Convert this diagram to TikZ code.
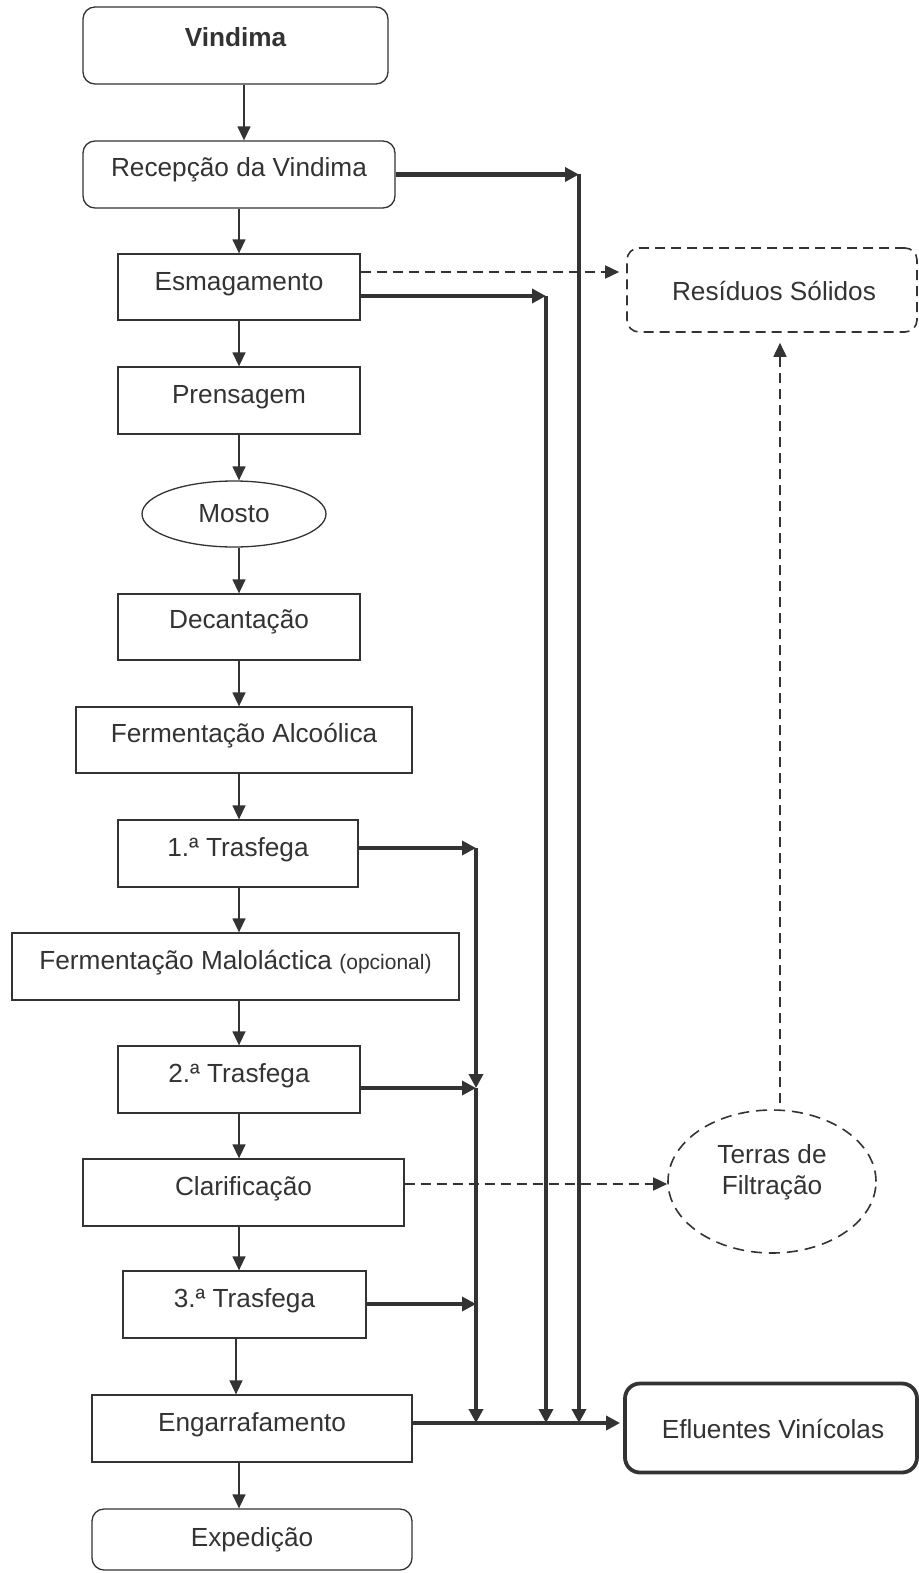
\documentclass[tikz,border=0pt]{standalone}
\usepackage{fontspec}
\setmainfont{Liberation Sans}
\usetikzlibrary{arrows.meta,shapes.geometric}
\definecolor{ink}{HTML}{333333}

\begin{document}
\begin{tikzpicture}[x=1pt,y=-1pt,
  proc/.style={draw=ink, line width=1.3pt, rectangle, inner sep=0pt},
  term/.style={proc, rounded corners=12pt},
  lbl/.style={text=ink, font=\fontsize{26.2}{31}\selectfont, anchor=base, inner sep=0pt},
  flow/.style={draw=ink, line width=1.4pt, -{Triangle[length=14pt,width=13pt]}},
  drain/.style={draw=ink, line width=4.6pt, -{Triangle[length=14pt,width=14pt]}},
  waste/.style={draw=ink, line width=1.6pt, dash pattern=on 10pt off 6pt, -{Triangle[length=14pt,width=13pt]}}]

\useasboundingbox (0,0) rectangle (918,1573);

% main process column
\node[term, minimum width=305pt, minimum height=77pt] (vin) at (235.5,45.5) {};
\node[lbl, font=\fontsize{26.2}{31}\selectfont\bfseries] at (235.5,47) {Vindima};
\node[term, minimum width=312pt, minimum height=67pt] (rec) at (239,174.5) {};
\node[lbl] at (239,177) {Recepção da Vindima};
\node[proc, minimum width=242pt, minimum height=66pt] (esm) at (239,287) {};
\node[lbl] at (239,290) {Esmagamento};
\node[proc, minimum width=242pt, minimum height=67pt] (pre) at (239,400.5) {};
\node[lbl] at (239,403) {Prensagem};
\node[ellipse, draw=ink, line width=1.3pt, inner sep=0pt, minimum width=184pt, minimum height=66pt] (mos) at (234,514) {};
\node[lbl] at (234,522) {Mosto};
\node[proc, minimum width=242pt, minimum height=66pt] (dec) at (239,627) {};
\node[lbl] at (239,628) {Decantação};
\node[proc, minimum width=336pt, minimum height=66pt] (fal) at (244,740) {};
\node[lbl] at (244,742) {Fermentação Alcoólica};
\node[proc, minimum width=240pt, minimum height=67pt] (tr1) at (238,853.5) {};
\node[lbl] at (238,856) {1.ª Trasfega};
\node[proc, minimum width=447pt, minimum height=67pt] (fml) at (235.5,966.5) {};
\node[lbl] at (235.5,969) {Fermentação Maloláctica {\fontsize{21}{25}\selectfont (opcional)}};
\node[proc, minimum width=242pt, minimum height=67pt] (tr2) at (239,1079.5) {};
\node[lbl] at (239,1082) {2.ª Trasfega};
\node[proc, minimum width=321pt, minimum height=67pt] (cla) at (243.5,1192.5) {};
\node[lbl] at (243.5,1195) {Clarificação};
\node[proc, minimum width=243pt, minimum height=67pt] (tr3) at (244.5,1304.5) {};
\node[lbl] at (244.5,1307) {3.ª Trasfega};
\node[proc, minimum width=320pt, minimum height=67pt] (eng) at (252,1428.5) {};
\node[lbl] at (252,1431) {Engarrafamento};
\node[term, minimum width=320pt, minimum height=61pt] (exp) at (252,1539.5) {};
\node[lbl] at (252,1546) {Expedição};

% outputs
\node[draw=ink, line width=1.6pt, dash pattern=on 10pt off 6pt, rounded corners=12pt, inner sep=0pt,
      minimum width=290pt, minimum height=84pt] (res) at (772,290) {};
\node[lbl] at (774,300) {Resíduos Sólidos};
\node[draw=ink, line width=3.8pt, rounded corners=15pt, inner sep=0pt,
      minimum width=292pt, minimum height=89pt] (efl) at (771,1428) {};
\node[lbl] at (773,1438) {Efluentes Vinícolas};
\node[ellipse, draw=ink, line width=1.6pt, dash pattern=on 11pt off 7pt, inner sep=0pt,
      minimum width=208pt, minimum height=143pt] (ter) at (772,1181.5) {};
\node[lbl] at (772,1163) {Terras de};
\node[lbl] at (772,1194) {Filtração};

% guide positions
\coordinate (cA) at (244,0);
\coordinate (cB) at (239,0);
\coordinate (cC) at (236,0);
\coordinate (jR) at (579,0);
\coordinate (jE) at (546,0);
\coordinate (jT) at (476,0);
\coordinate (jD) at (780,0);
\coordinate (yE) at (0,296);
\coordinate (yD) at (0,272);
\coordinate (y1) at (0,848);
\coordinate (y2) at (0,1088);
\coordinate (y3) at (0,1304);
\coordinate (yC) at (0,1184);
\coordinate (yL) at (0,1423);

% process flow
\draw[flow] (vin.south -| cA) -- (rec.north -| cA);
\draw[flow] (rec.south -| cB) -- (esm.north -| cB);
\draw[flow] (esm.south -| cB) -- (pre.north -| cB);
\draw[flow] (pre.south -| cB) -- (mos.north -| cB);
\draw[flow] (mos.south -| cB) -- (dec.north -| cB);
\draw[flow] (dec.south -| cB) -- (fal.north -| cB);
\draw[flow] (fal.south -| cB) -- (tr1.north -| cB);
\draw[flow] (tr1.south -| cB) -- (fml.north -| cB);
\draw[flow] (fml.south -| cB) -- (tr2.north -| cB);
\draw[flow] (tr2.south -| cB) -- (cla.north -| cB);
\draw[flow] (cla.south -| cB) -- (tr3.north -| cB);
\draw[flow] (tr3.south -| cC) -- (eng.north -| cC);
\draw[flow] (eng.south -| cB) -- (exp.north -| cB);

% wine effluents
\draw[drain] (rec.east) -- (rec.east -| jR);
\draw[drain] (rec.east -| jR) -- (jR |- yL);
\draw[drain] (esm.east |- yE) -- (jE |- yE);
\draw[drain] (jE |- yE) -- (jE |- yL);
\draw[drain] (tr1.east |- y1) -- (jT |- y1);
\draw[drain] (jT |- y1) -- (jT |- y2);
\draw[drain] (tr2.east |- y2) -- (jT |- y2);
\draw[drain] (jT |- y2) -- (jT |- yL);
\draw[drain] (tr3.east |- y3) -- (jT |- y3);
\draw[drain, shorten >=3pt] (eng.east |- yL) -- (efl.west |- yL);

% solid residues
\draw[waste, shorten >=7pt] (esm.east |- yD) -- (res.west |- yD);
\draw[waste] (cla.east |- yC) -- (ter.west |- yC);
\draw[waste, shorten <=6pt, shorten >=10pt] (ter.north -| jD) -- (res.south -| jD);
\end{tikzpicture}
\end{document}
